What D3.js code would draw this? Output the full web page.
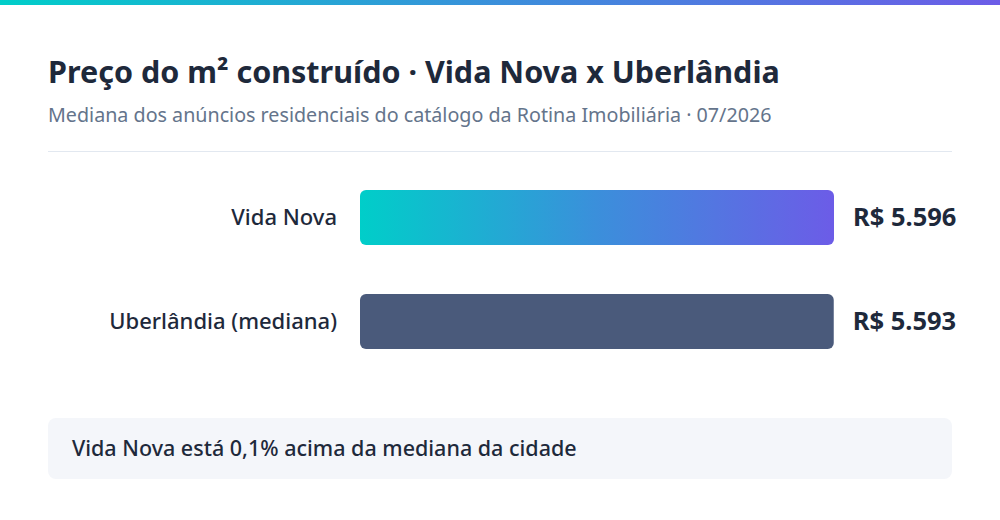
<!DOCTYPE html>
<html><head><meta charset="utf-8">
<script src="https://cdn.jsdelivr.net/npm/d3@7"></script>
<style>body{margin:0;background:#fff;font-family:"Noto Sans",sans-serif}</style>
</head><body><div id="chart"></div>
<script>
const categories = ["Vida Nova", "Uberlândia (mediana)"];
const values = [5596, 5593];
const valueLabels = ["R$ 5.596", "R$ 5.593"];
const note = "Vida Nova está 0,1% acima da mediana da cidade";

const width = 1000, height = 520;
const svg = d3.select("#chart").append("svg").attr("width", width).attr("height", height);

// Gradients
const defs = svg.append("defs");
const grad = defs.append("linearGradient").attr("id", "g1");
grad.append("stop").attr("offset", "0%").attr("stop-color", "#00cec9");
grad.append("stop").attr("offset", "50%").attr("stop-color", "#3b8fdb");
grad.append("stop").attr("offset", "100%").attr("stop-color", "#6c5ce7");

svg.append("rect").attr("x", 0).attr("y", 0).attr("width", width).attr("height", 5).attr("fill", "url(#g1)");

svg.append("text").attr("x", 48).attr("y", 83).attr("font-size", 30.5).attr("font-weight", 700)
  .attr("fill", "#1e293b").text("Preço do m² construído · Vida Nova x Uberlândia");
svg.append("text").attr("x", 48).attr("y", 122).attr("font-size", 19.7).attr("fill", "#64748b")
  .text("Mediana dos anúncios residenciais do catálogo da Rotina Imobiliária · 07/2026");
svg.append("line").attr("x1", 48).attr("x2", 952).attr("y1", 151.5).attr("y2", 151.5).attr("stroke", "#e2e8f0");

// Scales
const x = d3.scaleLinear().domain([0, d3.max(values)]).range([0, 474]);
const bw = 55, step = 104;
const ypos = d => 190 + categories.indexOf(d) * step;

const g = svg.append("g").attr("transform", "translate(360,0)");
g.selectAll("rect.bar").data(categories).enter().append("rect")
  .attr("x", 0).attr("y", d => ypos(d)).attr("height", bw)
  .attr("width", (d, i) => x(values[i])).attr("rx", 6)
  .attr("fill", (d, i) => i === 0 ? "url(#g1)" : "#4a5a7b");

g.selectAll("text.lab").data(categories).enter().append("text")
  .attr("x", -23).attr("y", d => ypos(d) + bw / 2).attr("dy", "0.35em")
  .attr("text-anchor", "end").attr("font-size", 22).attr("font-weight", 500).attr("fill", "#1e293b").text(d => d);

g.selectAll("text.val").data(categories).enter().append("text")
  .attr("x", (d, i) => x(values[i]) + 19).attr("y", d => ypos(d) + bw / 2).attr("dy", "0.35em")
  .attr("font-size", 25.5).attr("font-weight", 700).attr("fill", "#1e293b").text((d, i) => valueLabels[i]);

svg.append("rect").attr("x", 48).attr("y", 418).attr("width", 904).attr("height", 61).attr("rx", 8).attr("fill", "#f4f6fa");
svg.append("text").attr("x", 72).attr("y", 448).attr("dy", "0.35em").attr("font-size", 21.5).attr("font-weight", 500)
  .attr("fill", "#1e293b").text(note);
</script></body></html>
